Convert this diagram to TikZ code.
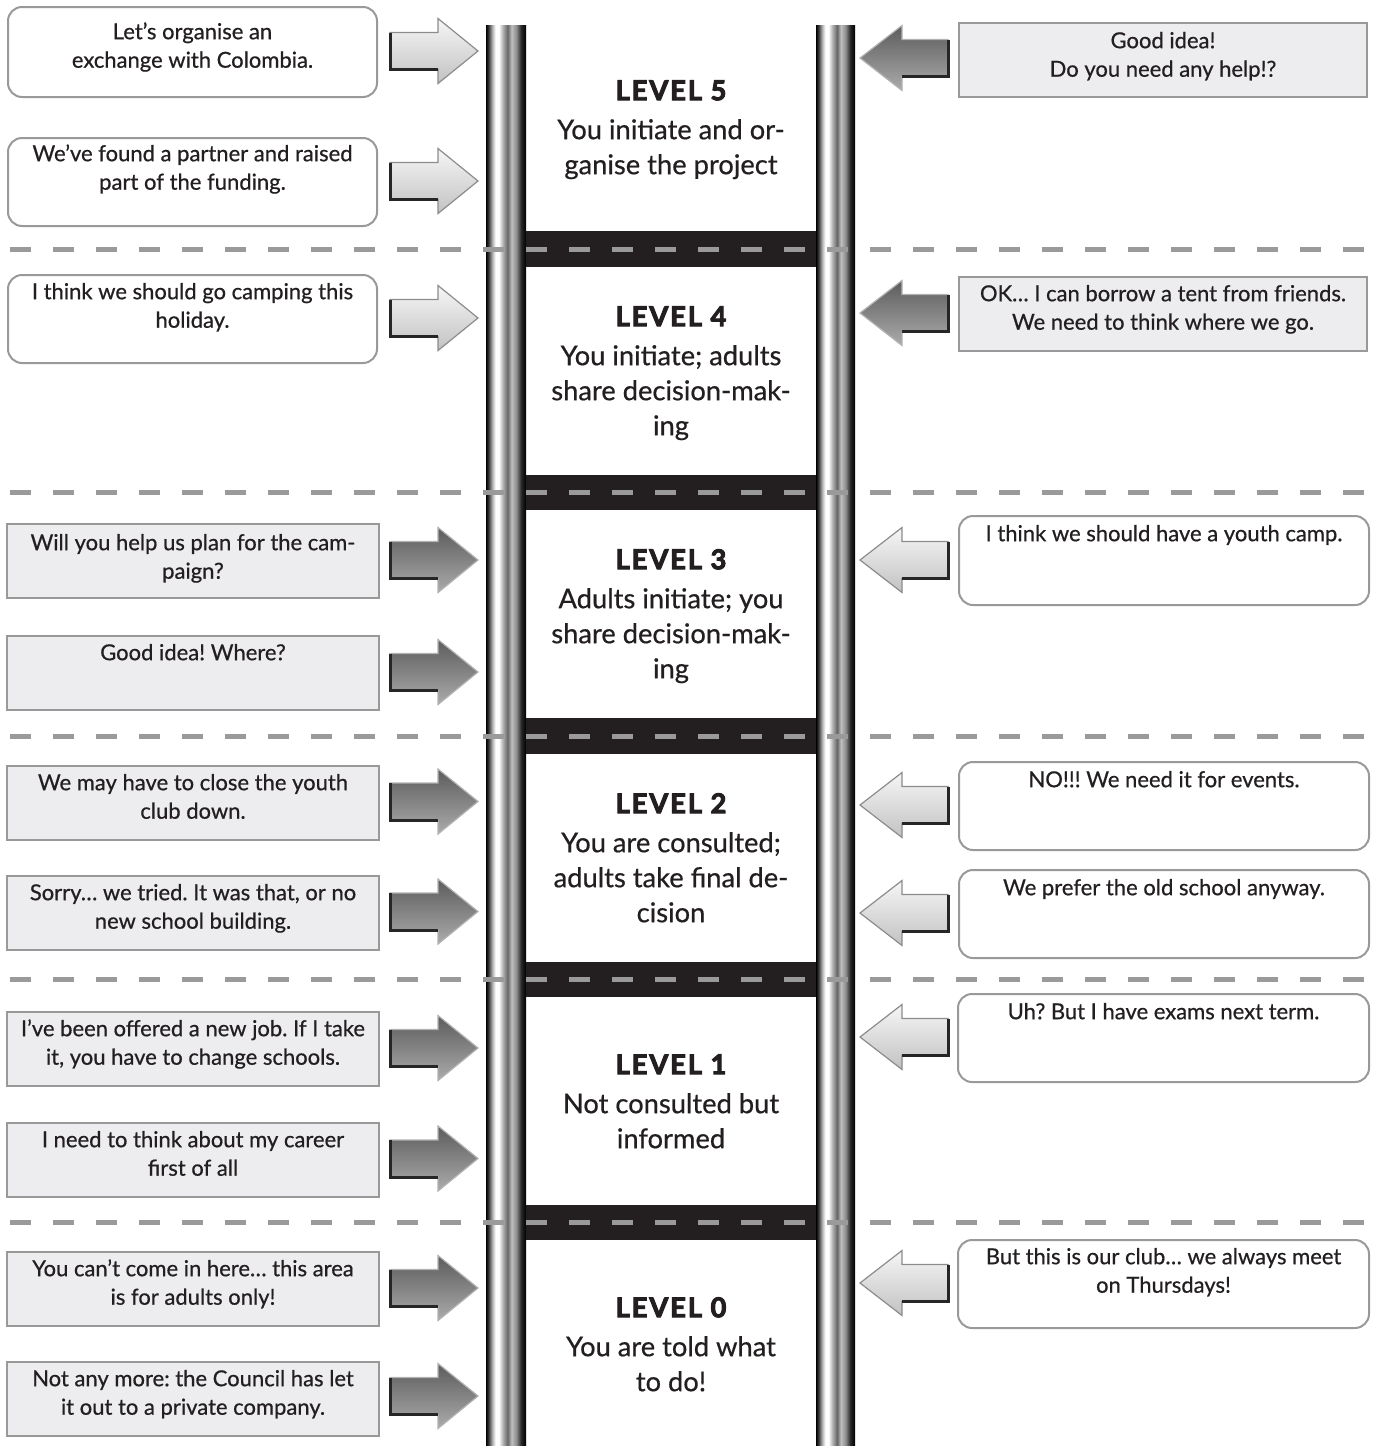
\documentclass[tikz,border=0pt]{standalone}
\usepackage{fontspec}
\setmainfont[FakeBold=0.6]{Lato}
\newfontfamily\titlefont[LetterSpace=7,BoldFeatures={FakeBold=3.5}]{Lato}
\usetikzlibrary{calc}
\definecolor{boxline}{HTML}{999999}
\definecolor{boxfill}{HTML}{EDEDEF}
\definecolor{dashc}{HTML}{9A9A9A}
\definecolor{rung}{HTML}{231F20}
\definecolor{ink}{HTML}{231F20}
\definecolor{ltop}{HTML}{F6F6F6}
\definecolor{lbot}{HTML}{C2C2C2}
\definecolor{dtop}{HTML}{5C5C5C}
\definecolor{dbot}{HTML}{ABABAB}
\pgfdeclarehorizontalshading{rail}{100bp}{color(0bp)=(black); color(25bp)=(black); color(28bp)=(black!80); color(33bp)=(black!30); color(37bp)=(white); color(41bp)=(white); color(46bp)=(black!30); color(52bp)=(black!60); color(57bp)=(black!25); color(63bp)=(black!45); color(69bp)=(black!85); color(75bp)=(black); color(100bp)=(black)}
\newcommand\arR[3]{%
  \path[#3arr] (#1-88,#2-18.5) -- (#1-40,#2-18.5) -- (#1-40,#2-32.5) -- (#1,#2) -- (#1-40,#2+32.5) -- (#1-40,#2+18.5) -- (#1-88,#2+18.5) -- cycle;
  \draw[black!85,line width=3pt] (#1-88,#2-18.5) -- (#1-88,#2+18.5) -- (#1-40,#2+18.5);
}
\newcommand\arL[3]{%
  \path[#3arr] (#1+88,#2-18.5) -- (#1+42,#2-18.5) -- (#1+42,#2-32.5) -- (#1,#2) -- (#1+42,#2+32.5) -- (#1+42,#2+18.5) -- (#1+88,#2+18.5) -- cycle;
  \draw[black!85,line width=3pt] (#1+42,#2+18.5) -- (#1+88,#2+18.5) -- (#1+88,#2-18.5);
}
\frenchspacing
\begin{document}
\frenchspacing
\begin{tikzpicture}[x=1pt,y=-1pt,
  rbox/.style={draw=boxline,line width=2pt,rounded corners=14pt,fill=white,inner sep=0pt,anchor=north west},
  gbox/.style={draw=boxline,line width=2pt,fill=boxfill,inner sep=0pt,anchor=north west},
  btxt/.style={font=\fontsize{22}{28.5}\selectfont,align=center,inner sep=0pt,anchor=north,text=ink},
  lvl/.style={font=\fontsize{27.3}{35}\selectfont,align=center,inner sep=0pt,anchor=north,text=ink},
  lightarr/.style={top color=ltop,bottom color=lbot,draw=black!45,line width=1.2pt},
  darkarr/.style={top color=dtop,bottom color=dbot,draw=black!30,line width=1.2pt},
  dashln/.style={draw=dashc,line width=5pt,dash pattern=on 21pt off 22pt}
]
\useasboundingbox (0,0) rectangle (1375,1446);
\fill[white] (0,0) rectangle (1375,1446);
% ladder
\shade[shading=rail] (486,25) rectangle (526,1446);
\shade[shading=rail] (816,25) rectangle (855,1446);
\foreach \a/\b in {231/267,475/510,718/754,962/997,1205/1240}
  \fill[rung] (526,\a) rectangle (816,\b);
\foreach \y in {249,492.5,736,979.5,1222.5}
  \draw[dashln] (10,\y) -- (1375,\y);
% level texts
\node[lvl] (lv5) at (671,70) {\rule{0pt}{30pt}{\titlefont\bfseries LEVEL 5}\\[4pt]You initiate and or-\\ganise the project};
\node[lvl] (lv4) at (671,296) {\rule{0pt}{30pt}{\titlefont\bfseries LEVEL 4}\\[4pt]You initiate; adults\\share decision-mak-\\ing};
\node[lvl] (lv3) at (671,539) {\rule{0pt}{30pt}{\titlefont\bfseries LEVEL 3}\\[4pt]Adults initiate; you\\share decision-mak-\\ing};
\node[lvl] (lv2) at (671,783) {\rule{0pt}{30pt}{\titlefont\bfseries LEVEL 2}\\[4pt]You are consulted;\\adults take final de-\\cision};
\node[lvl] (lv1) at (671,1044) {\rule{0pt}{30pt}{\titlefont\bfseries LEVEL 1}\\[4pt]Not consulted but\\informed};
\node[lvl] (lv0) at (671,1287) {\rule{0pt}{30pt}{\titlefont\bfseries LEVEL 0}\\[4pt]You are told what\\to do!};
% left boxes
\node[rbox,minimum width=369pt,minimum height=90pt] (L1) at (7,6) {};
\node[rbox,minimum width=369pt,minimum height=88pt] (L2) at (7,137) {};
\node[rbox,minimum width=369pt,minimum height=88pt] (L3) at (7,274) {};
\foreach \n/\t in {L4/523,L5/635,L6/765,L7/875,L8/1011,L9/1122,L10/1251,L11/1361}
  \node[gbox,minimum width=372pt,minimum height=74pt] (\n) at (6,\t) {};
\node[btxt] (L1t) at ($(L1.north)+(0,13)$) {\rule{0pt}{20pt}Let’s organise an\\exchange with Colombia.};
\node[btxt] (L2t) at ($(L2.north)+(0,4)$) {\rule{0pt}{20pt}We’ve found a partner and raised\\part of the funding.};
\node[btxt] (L3t) at ($(L3.north)+(0,5)$) {\rule{0pt}{20pt}I think we should go camping this\\holiday.};
\node[btxt] (L4t) at ($(L4.north)+(0,7)$) {\rule{0pt}{20pt}Will you help us plan for the cam-\\paign?};
\node[btxt] (L5t) at ($(L5.north)+(0,5)$) {\rule{0pt}{20pt}Good idea! Where?};
\node[btxt] (L6t) at ($(L6.north)+(0,5)$) {\rule{0pt}{20pt}We may have to close the youth\\club down.};
\node[btxt] (L7t) at ($(L7.north)+(0,5)$) {\rule{0pt}{20pt}Sorry… we tried. It was that, or no\\new school building.};
\node[btxt] (L8t) at ($(L8.north)+(0,5)$) {\rule{0pt}{20pt}I’ve been offered a new job. If I take\\it, you have to change schools.};
\node[btxt] (L9t) at ($(L9.north)+(0,5)$) {\rule{0pt}{20pt}I need to think about my career\\first of all};
\node[btxt] (L10t) at ($(L10.north)+(0,5)$) {\rule{0pt}{20pt}You can’t come in here… this area\\is for adults only!};
\node[btxt] (L11t) at ($(L11.north)+(0,5)$) {\rule{0pt}{20pt}Not any more: the Council has let\\it out to a private company.};
% right boxes
\node[gbox,minimum width=408pt,minimum height=74pt] (R1) at (958,22) {};
\node[gbox,minimum width=408pt,minimum height=74pt] (R2) at (958,276) {};
\node[rbox,minimum width=410pt,minimum height=89pt] (R3) at (958,515) {};
\node[rbox,minimum width=410pt,minimum height=88pt] (R4) at (958,761) {};
\node[rbox,minimum width=410pt,minimum height=88pt] (R5) at (958,869) {};
\node[rbox,minimum width=411pt,minimum height=88pt] (R6) at (957,993) {};
\node[rbox,minimum width=411pt,minimum height=88pt] (R7) at (957,1239) {};
\node[btxt] (R1t) at ($(R1.north)+(0,6)$) {\rule{0pt}{20pt}Good idea!\\Do you need any help!?};
\node[btxt] (R2t) at ($(R2.north)+(0,5)$) {\rule{0pt}{20pt}OK… I can borrow a tent from friends.\\We need to think where we go.};
\node[btxt] (R3t) at ($(R3.north)+(0,6)$) {\rule{0pt}{20pt}I think we should have a youth camp.};
\node[btxt] (R4t) at ($(R4.north)+(0,6)$) {\rule{0pt}{20pt}NO!!! We need it for events.};
\node[btxt] (R5t) at ($(R5.north)+(0,6)$) {\rule{0pt}{20pt}We prefer the old school anyway.};
\node[btxt] (R6t) at ($(R6.north)+(0,6)$) {\rule{0pt}{20pt}Uh? But I have exams next term.};
\node[btxt] (R7t) at ($(R7.north)+(0,5)$) {\rule{0pt}{20pt}But this is our club… we always meet\\on Thursdays!};
% arrows left side
\arR{478}{51}{light}
\arR{478}{181}{light}
\arR{478}{318}{light}
\arR{478}{560}{dark}
\arR{478}{672}{dark}
\arR{478}{801.5}{dark}
\arR{478}{911.5}{dark}
\arR{478}{1048}{dark}
\arR{478}{1158.5}{dark}
\arR{478}{1288}{dark}
\arR{478}{1396}{dark}
% arrows right side
\arL{860}{58}{dark}
\arL{860}{313}{dark}
\arL{860}{560}{light}
\arL{860}{805}{light}
\arL{860}{913}{light}
\arL{860}{1037}{light}
\arL{860}{1283}{light}
\end{tikzpicture}
\end{document}
